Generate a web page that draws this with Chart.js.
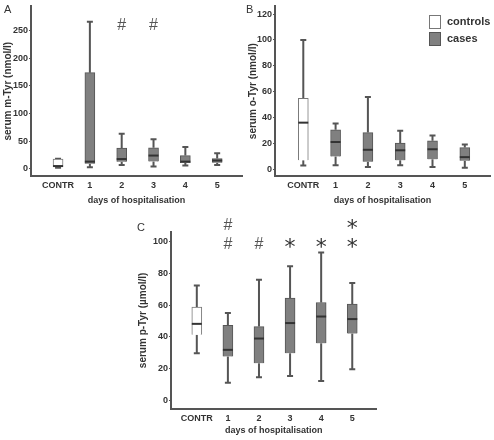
<!DOCTYPE html>
<html>
<head>
<meta charset="utf-8">
<script src="https://cdn.jsdelivr.net/npm/chart.js@4"></script>
<style>
  body { margin: 0; background: #fff; width: 494px; height: 440px; position: relative; overflow: hidden; font-family: "Liberation Sans", Arial, sans-serif; }
  .panel { position: absolute; }
  .letter { position: absolute; font-size: 11px; color: #333; }
</style>
</head>
<body>
<div class="panel" style="left:0;top:0;width:245px;height:210px"><canvas id="chartA"></canvas></div>
<div class="panel" style="left:245px;top:0;width:249px;height:210px"><canvas id="chartB"></canvas></div>
<div class="panel" style="left:130px;top:215px;width:250px;height:225px"><canvas id="chartC"></canvas></div>
<div class="letter" style="left:4px;top:3px">A</div>
<div class="letter" style="left:246px;top:3px">B</div>
<div class="letter" style="left:137px;top:221px">C</div>
<script>
const categories = ['CONTR', '1', '2', '3', '4', '5'];

// A: serum m-Tyr (nmol/l)
const mTyrMin    = [2, 3, 7, 4, 6, 7];
const mTyrQ1     = [3.5, 9, 13, 13.4, 10.6, 11];
const mTyrMedian = [5, 13, 17.7, 24, 13, 15];
const mTyrQ3     = [17.7, 174, 37.6, 38, 24, 18.7];
const mTyrMax    = [18, 266, 63.6, 53.5, 39.4, 28];
const mTyrTicks  = [0, 50, 100, 150, 200, 250];
const mTyrMarks  = [[], [], ['#'], ['#'], [], []];

// B: serum o-Tyr (nmol/l)
const oTyrMin    = [2.8, 3, 1.7, 3, 1.7, 1];
const oTyrQ1     = [6.8, 9.8, 5.8, 6.8, 7.6, 6.6];
const oTyrMedian = [36, 21, 15, 14.6, 15.4, 9.3];
const oTyrQ3     = [54.8, 30.5, 28.3, 20.2, 22, 16.7];
const oTyrMax    = [100, 35.4, 55.8, 29.8, 26, 19];
const oTyrTicks  = [0, 20, 40, 60, 80, 100, 120];

// C: serum p-Tyr (µmol/l)
const pTyrMin    = [29.8, 11.3, 14.7, 15.5, 12.4, 19.7];
const pTyrQ1     = [41.3, 27.7, 23.5, 29.8, 36, 42.1];
const pTyrMedian = [48.2, 31.9, 39, 48.7, 52.8, 51.2];
const pTyrQ3     = [58.7, 47.2, 46.5, 64.4, 61.6, 60.6];
const pTyrMax    = [72.3, 55, 75.9, 84.3, 93, 73.8];
const pTyrTicks  = [0, 20, 40, 60, 80, 100];
const pTyrMarks  = [[], ['#', '#'], ['#'], ['*'], ['*'], ['*', '*']];

const seriesLabels = ['controls', 'cases'];

const boxPlugin = {
  id: 'boxWhiskers',
  beforeDatasetsDraw(chart, args, opts) {
    const ctx = chart.ctx, y = chart.scales.y;
    chart.data.datasets.forEach((ds, di) => {
      chart.getDatasetMeta(di).data.forEach((bar, j) => {
        const i = ds.data[j].x;
        const q1 = y.getPixelForValue(ds.data[j].y[0]);
        const q3 = y.getPixelForValue(ds.data[j].y[1]);
        const lo = y.getPixelForValue(opts.min[i]);
        const hi = y.getPixelForValue(opts.max[i]);
        ctx.save();
        ctx.strokeStyle = '#555';
        ctx.lineWidth = 2;
        ctx.beginPath();
        ctx.moveTo(bar.x, q3); ctx.lineTo(bar.x, hi);
        ctx.moveTo(bar.x, q1); ctx.lineTo(bar.x, lo);
        ctx.moveTo(bar.x - 3, hi); ctx.lineTo(bar.x + 3, hi);
        ctx.moveTo(bar.x - 3, lo); ctx.lineTo(bar.x + 3, lo);
        ctx.stroke();
        ctx.restore();
      });
    });
  },
  afterDatasetsDraw(chart, args, opts) {
    const ctx = chart.ctx, y = chart.scales.y, x = chart.scales.x;
    chart.data.datasets.forEach((ds, di) => {
      chart.getDatasetMeta(di).data.forEach((bar, j) => {
        const i = ds.data[j].x;
        const m = y.getPixelForValue(opts.median[i]);
        ctx.save();
        ctx.strokeStyle = '#333';
        ctx.lineWidth = 2;
        ctx.beginPath();
        ctx.moveTo(bar.x - bar.width / 2, m);
        ctx.lineTo(bar.x + bar.width / 2, m);
        ctx.stroke();
        ctx.restore();
      });
    });
    // significance marks
    if (opts.marks) {
      ctx.save();
      ctx.textAlign = 'center';
      ctx.textBaseline = 'middle';
      opts.marks.forEach((list, i) => {
        list.forEach((s, k) => {
          const px = x.getPixelForValue(i);
          const py = y.getPixelForValue(opts.markBase) - k * 19;
          if (s === '*') {
            ctx.font = '22px "DejaVu Sans"';
            ctx.fillStyle = '#333';
            ctx.fillText(s, px, py + 4);
          } else {
            ctx.font = '16px "Liberation Sans"';
            ctx.fillStyle = '#555';
            ctx.fillText(s, px, py);
          }
        });
      });
      ctx.restore();
    }
    // legend
    if (opts.legend) {
      const L = opts.legend;
      ctx.save();
      ctx.font = 'bold 11px "Liberation Sans"';
      ctx.textBaseline = 'middle';
      chart.data.datasets.forEach((ds, di) => {
        const top = L.y + di * 17;
        ctx.fillStyle = ds.backgroundColor;
        ctx.fillRect(L.x, top, 12, 14);
        ctx.strokeStyle = ds.borderColor;
        ctx.lineWidth = 1;
        ctx.strokeRect(L.x + 0.5, top + 0.5, 11, 13);
        ctx.fillStyle = '#333';
        ctx.fillText(ds.label, L.x + 18, top + 7);
      });
      ctx.restore();
    }
  }
};

function makePanel(id, p) {
  const boxes = categories.map((c, i) => ({ x: i, y: [p.q1[i], p.q3[i]] }));
  new Chart(document.getElementById(id), {
    type: 'bar',
    data: {
      datasets: [{
        label: seriesLabels[0],
        data: boxes.slice(0, 1),
        backgroundColor: '#ffffff',
        borderColor: '#777',
        borderWidth: 1,
        barThickness: 10,
        grouped: false
      }, {
        label: seriesLabels[1],
        data: boxes.slice(1),
        backgroundColor: '#808080',
        borderColor: '#555',
        borderWidth: 1,
        barThickness: 10,
        grouped: false
      }]
    },
    options: {
      responsive: true,
      maintainAspectRatio: false,
      animation: false,
      layout: { padding: p.padding },
      plugins: {
        legend: { display: false },
        tooltip: { enabled: false },
        boxWhiskers: { min: p.min, median: p.median, max: p.max, marks: p.marks, markBase: p.markBase, legend: p.legend }
      },
      scales: {
        x: {
          type: 'linear',
          min: p.xMin, max: p.xMax,
          offset: false,
          grid: { display: false, drawTicks: false },
          border: { display: true, color: '#555', width: 2 },
          afterBuildTicks: s => { s.ticks = categories.map((c, i) => ({ value: i })); },
          afterFit: s => { s.height = p.xHeight; },
          ticks: {
            autoSkip: false, maxRotation: 0, padding: 4,
            color: '#333', font: { family: 'Liberation Sans', size: 9, weight: 'bold' },
            callback: v => categories[v]
          },
          title: {
            display: true, text: 'days of hospitalisation', color: '#333',
            font: { family: 'Liberation Sans', size: 9, weight: 'bold' },
            padding: { top: 0, bottom: 4 }
          }
        },
        y: {
          min: p.yMin, max: p.yMax,
          grid: { display: true, drawOnChartArea: false, drawTicks: true, tickLength: 2, color: '#555' },
          border: { display: true, color: '#555', width: 2 },
          afterBuildTicks: s => { s.ticks = p.ticks.map(v => ({ value: v })); },
          afterFit: s => { s.width = p.yWidth; },
          ticks: {
            padding: 1, color: '#333',
            font: { family: 'Liberation Sans', size: 9, weight: 'bold' }
          },
          title: {
            display: true, text: p.yTitle, color: '#333',
            font: { family: 'Liberation Sans', size: 10, weight: 'bold' },
            padding: { top: p.yTitlePad, bottom: 0 }
          }
        }
      }
    },
    plugins: [boxPlugin]
  });
}

makePanel('chartA', {
  min: mTyrMin, q1: mTyrQ1, median: mTyrMedian, q3: mTyrQ3, max: mTyrMax, ticks: mTyrTicks,
  marks: mTyrMarks, markBase: 260,
  yTitle: 'serum m-Tyr (nmol/l)', yMin: -13, yMax: 294, xMin: -0.85, xMax: 5.78,
  yWidth: 31, xHeight: 34, yTitlePad: 2.5,
  padding: { left: 0, top: 3, right: 3, bottom: 0 }
});

makePanel('chartB', {
  min: oTyrMin, q1: oTyrQ1, median: oTyrMedian, q3: oTyrQ3, max: oTyrMax, ticks: oTyrTicks,
  yTitle: 'serum o-Tyr (nmol/l)', yMin: -5.3, yMax: 126, xMin: -0.876, xMax: 5.78,
  yWidth: 30, xHeight: 34, yTitlePad: 2,
  legend: { x: 184, y: 15 },
  padding: { left: 0, top: 3, right: 4, bottom: 0 }
});

makePanel('chartC', {
  min: pTyrMin, q1: pTyrQ1, median: pTyrMedian, q3: pTyrQ3, max: pTyrMax, ticks: pTyrTicks,
  marks: pTyrMarks, markBase: 98,
  yTitle: 'serum p-Tyr (µmol/l)', yMin: -5.2, yMax: 106, xMin: -0.83, xMax: 5.78,
  yWidth: 41, xHeight: 31, yTitlePad: 7,
  padding: { left: 0, top: 16.7, right: 3.5, bottom: 0 }
});
</script>
</body>
</html>
